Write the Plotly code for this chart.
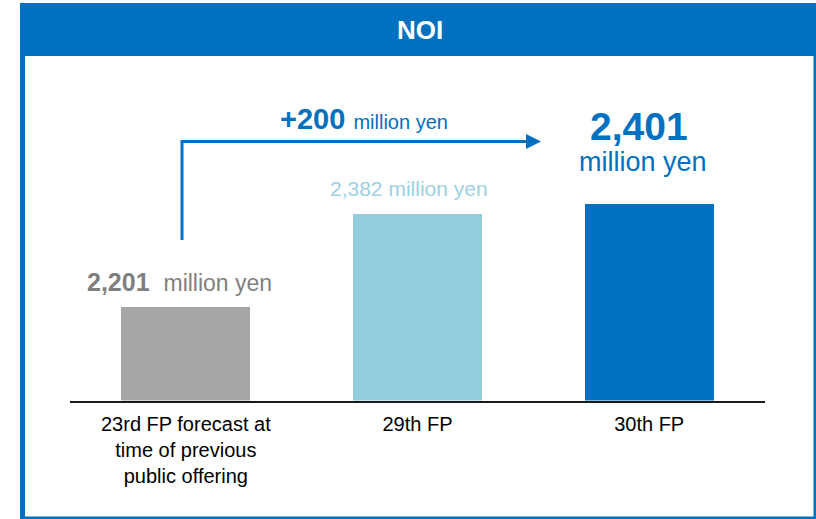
import plotly.graph_objects as go

# NOI by fiscal period (million yen)
categories = ["23rd FP forecast at<br>time of previous<br>public offering", "29th FP", "30th FP"]
noi_values = [2201, 2382, 2401]
bar_colors = ["#A6A6A6", "#92CDDC", "#0070C0"]
title_text = "NOI"
unit_text = "million yen"

W, H = 816, 519
BLUE = "#0070C0"
FONT = "Arial, Liberation Sans, sans-serif"

# truncated value axis so the differences stand out
Y_BASE, Y_TOP = 2020, 2681


def px(x):
    return x / W


def py(y):
    return 1 - y / H


fig = go.Figure()
fig.add_trace(go.Bar(
    x=[0, 1, 2],
    y=noi_values,
    marker=dict(color=bar_colors, line=dict(width=0)),
    width=0.557,
    hoverinfo="skip",
))

shapes = [
    # header band
    dict(type="rect", xref="paper", yref="paper", x0=px(20), x1=px(816), y0=py(56), y1=py(3),
         fillcolor=BLUE, line=dict(width=0), layer="below"),
    # frame borders
    dict(type="rect", xref="paper", yref="paper", x0=px(20), x1=px(25), y0=py(519), y1=py(3),
         fillcolor=BLUE, line=dict(width=0), layer="below"),
    dict(type="rect", xref="paper", yref="paper", x0=px(813.5), x1=px(816), y0=py(519), y1=py(3),
         fillcolor=BLUE, line=dict(width=0), layer="below"),
    dict(type="rect", xref="paper", yref="paper", x0=px(20), x1=px(816), y0=py(519), y1=py(516.5),
         fillcolor=BLUE, line=dict(width=0), layer="below"),
    # growth arrow: rise from the first bar, then run across to the latest period
    dict(type="path", xref="paper", yref="paper",
         path=f"M {px(182)} {py(240)} L {px(182)} {py(141.5)} L {px(528)} {py(141.5)}",
         line=dict(color=BLUE, width=3)),
    dict(type="path", xref="paper", yref="paper",
         path=f"M {px(526)} {py(134)} L {px(541)} {py(141.5)} L {px(526)} {py(149)} Z",
         fillcolor=BLUE, line=dict(color=BLUE, width=0)),
]

diff = noi_values[2] - noi_values[0]

annotations = [
    dict(text=f"<b>{title_text}</b>", xref="paper", yref="paper", x=px(420), y=py(30),
         showarrow=False, font=dict(family=FONT, size=26, color="white"),
         xanchor="center", yanchor="middle"),
    # first bar value
    dict(text=f"<b>{noi_values[0]:,}</b>&nbsp;&nbsp;<span style='font-size:23px'>{unit_text}</span>",
         xref="x", yref="y", x=0, y=noi_values[0], xshift=-6, yshift=25,
         showarrow=False, font=dict(family=FONT, size=25, color="#7F7F7F"),
         xanchor="center", yanchor="middle"),
    # second bar value
    dict(text=f"{noi_values[1]:,} {unit_text}", xref="x", yref="y", x=1, y=noi_values[1],
         xshift=-9, yshift=26, showarrow=False,
         font=dict(family=FONT, size=21, color="#9DD1E1"),
         xanchor="center", yanchor="middle"),
    # third bar value
    dict(text=f"<b>{noi_values[2]:,}</b>", xref="x", yref="y", x=2, y=noi_values[2],
         xshift=-10, yshift=78, showarrow=False,
         font=dict(family=FONT, size=39, color=BLUE),
         xanchor="center", yanchor="middle"),
    dict(text=unit_text, xref="x", yref="y", x=2, y=noi_values[2],
         xshift=-6, yshift=42, showarrow=False,
         font=dict(family=FONT, size=27, color=BLUE),
         xanchor="center", yanchor="middle"),
    # increase label above the arrow
    dict(text=f"<b>+{diff}</b> <span style='font-size:20px'>{unit_text}</span>",
         xref="paper", yref="paper", x=px(364), y=py(119),
         showarrow=False, font=dict(family=FONT, size=29, color=BLUE),
         xanchor="center", yanchor="middle"),
]

fig.update_layout(
    width=W, height=H,
    margin=dict(l=0, r=0, t=0, b=0),
    paper_bgcolor="white", plot_bgcolor="white",
    showlegend=False,
    bargap=0,
    shapes=shapes,
    annotations=annotations,
    xaxis=dict(
        domain=[px(70), px(765)],
        range=[-0.5, 2.5],
        tickmode="array", tickvals=[0, 1, 2], ticktext=categories,
        showline=True, linecolor="#1A1A1A", linewidth=2,
        showgrid=False, zeroline=False, ticks="",
        ticklabelstandoff=4,
        tickfont=dict(family=FONT, size=20, color="#000000"),
        fixedrange=True,
    ),
    yaxis=dict(
        domain=[py(400.5), py(60)],
        range=[Y_BASE, Y_TOP],
        visible=False, showgrid=False, zeroline=False, fixedrange=True,
    ),
)

fig.write_html("out.html")
